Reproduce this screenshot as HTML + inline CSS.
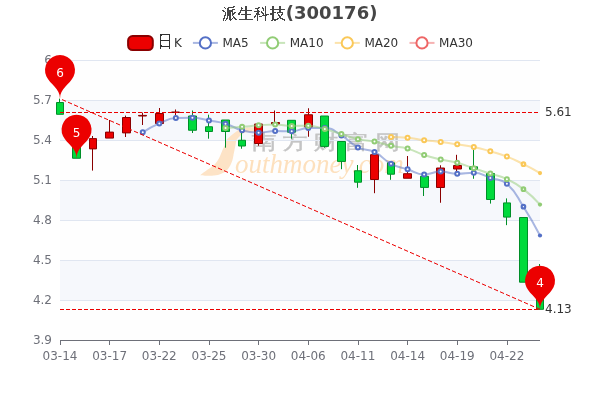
<!DOCTYPE html><html><head><meta charset="utf-8"><style>html,body{margin:0;padding:0;background:#fff;width:600px;height:400px;overflow:hidden}svg{display:block}text{font-family:'DejaVu Sans','WenQuanYi Zen Hei',sans-serif}</style></head><body>
<svg width="600" height="400" viewBox="0 0 600 400">
<rect width="600" height="400" fill="#fff"/>
<rect x="60" y="300" width="480" height="40" fill="rgba(250,250,250,0.2)"/>
<rect x="60" y="260" width="480" height="40" fill="rgba(210,219,238,0.2)"/>
<rect x="60" y="220" width="480" height="40" fill="rgba(250,250,250,0.2)"/>
<rect x="60" y="180" width="480" height="40" fill="rgba(210,219,238,0.2)"/>
<rect x="60" y="140" width="480" height="40" fill="rgba(250,250,250,0.2)"/>
<rect x="60" y="100" width="480" height="40" fill="rgba(210,219,238,0.2)"/>
<rect x="60" y="60" width="480" height="40" fill="rgba(250,250,250,0.2)"/>
<path d="M259.00,129.00 C259.00,128.28 256.13,127.52 254.00,127.30 C251.87,127.08 248.53,127.37 246.20,127.70 C243.87,128.03 241.87,128.50 240.00,129.30 C238.13,130.10 236.58,131.38 235.00,132.50 C233.42,133.62 231.92,134.75 230.50,136.00 C229.08,137.25 227.42,138.50 226.50,140.00 C225.58,141.50 225.67,143.33 225.00,145.00 C224.33,146.67 223.25,148.33 222.50,150.00 C221.75,151.67 221.25,153.33 220.50,155.00 C219.75,156.67 219.08,158.33 218.00,160.00 C216.92,161.67 215.83,163.33 214.00,165.00 C212.17,166.67 208.83,168.67 207.00,170.00 C205.17,171.33 204.08,172.12 203.00,173.00 C201.92,173.88 200.17,174.85 200.50,175.30 C200.83,175.75 203.42,175.62 205.00,175.70 C206.58,175.78 207.83,175.93 210.00,175.80 C212.17,175.67 215.67,175.45 218.00,174.90 C220.33,174.35 222.33,173.48 224.00,172.50 C225.67,171.52 226.92,170.25 228.00,169.00 C229.08,167.75 229.75,166.50 230.50,165.00 C231.25,163.50 232.00,161.67 232.50,160.00 C233.00,158.33 233.17,156.67 233.50,155.00 C233.83,153.33 234.17,151.67 234.50,150.00 C234.83,148.33 235.17,146.67 235.50,145.00 C235.83,143.33 236.00,141.25 236.50,140.00 C237.00,138.75 237.58,138.50 238.50,137.50 C239.42,136.50 240.75,134.87 242.00,134.00 C243.25,133.13 244.00,132.70 246.00,132.30 C248.00,131.90 251.83,132.15 254.00,131.60 C256.17,131.05 259.00,129.72 259.00,129.00Z" fill="#fde3c6"/>
<text x="0" y="0" font-size="20" fill="#c4c4c4" stroke="#c4c4c4" stroke-width="0.4" font-weight="bold" letter-spacing="4.8" transform="translate(251.4,149.4) scale(1.25,1.0)" style="font-family:'WenQuanYi Zen Hei',sans-serif">南方财富网</text>
<text x="235" y="173.2" font-size="27" fill="#fde0bd" font-style="italic" style="font-family:'Liberation Serif',serif">outhmoney.com</text>
<line x1="60" y1="60.5" x2="540" y2="60.5" stroke="#E0E6F1" stroke-width="1"/>
<line x1="60" y1="100.5" x2="540" y2="100.5" stroke="#E0E6F1" stroke-width="1"/>
<line x1="60" y1="140.5" x2="540" y2="140.5" stroke="#E0E6F1" stroke-width="1"/>
<line x1="60" y1="180.5" x2="540" y2="180.5" stroke="#E0E6F1" stroke-width="1"/>
<line x1="60" y1="220.5" x2="540" y2="220.5" stroke="#E0E6F1" stroke-width="1"/>
<line x1="60" y1="260.5" x2="540" y2="260.5" stroke="#E0E6F1" stroke-width="1"/>
<line x1="60" y1="300.5" x2="540" y2="300.5" stroke="#E0E6F1" stroke-width="1"/>
<text x="52" y="344.3" font-size="12" fill="#6E7079" text-anchor="end">3.9</text>
<text x="52" y="304.3" font-size="12" fill="#6E7079" text-anchor="end">4.2</text>
<text x="52" y="264.3" font-size="12" fill="#6E7079" text-anchor="end">4.5</text>
<text x="52" y="224.3" font-size="12" fill="#6E7079" text-anchor="end">4.8</text>
<text x="52" y="184.3" font-size="12" fill="#6E7079" text-anchor="end">5.1</text>
<text x="52" y="144.3" font-size="12" fill="#6E7079" text-anchor="end">5.4</text>
<text x="52" y="104.3" font-size="12" fill="#6E7079" text-anchor="end">5.7</text>
<text x="52" y="64.3" font-size="12" fill="#6E7079" text-anchor="end">6</text>
<line x1="60" y1="340.5" x2="540" y2="340.5" stroke="#6E7079" stroke-width="1"/>
<line x1="60.5" y1="340" x2="60.5" y2="345" stroke="#6E7079" stroke-width="1"/>
<text x="60.00" y="360" font-size="12" fill="#6E7079" text-anchor="middle">03-14</text>
<line x1="109.5" y1="340" x2="109.5" y2="345" stroke="#6E7079" stroke-width="1"/>
<text x="109.66" y="360" font-size="12" fill="#6E7079" text-anchor="middle">03-17</text>
<line x1="159.5" y1="340" x2="159.5" y2="345" stroke="#6E7079" stroke-width="1"/>
<text x="159.31" y="360" font-size="12" fill="#6E7079" text-anchor="middle">03-22</text>
<line x1="209.5" y1="340" x2="209.5" y2="345" stroke="#6E7079" stroke-width="1"/>
<text x="208.97" y="360" font-size="12" fill="#6E7079" text-anchor="middle">03-25</text>
<line x1="258.5" y1="340" x2="258.5" y2="345" stroke="#6E7079" stroke-width="1"/>
<text x="258.62" y="360" font-size="12" fill="#6E7079" text-anchor="middle">03-30</text>
<line x1="308.5" y1="340" x2="308.5" y2="345" stroke="#6E7079" stroke-width="1"/>
<text x="308.28" y="360" font-size="12" fill="#6E7079" text-anchor="middle">04-06</text>
<line x1="358.5" y1="340" x2="358.5" y2="345" stroke="#6E7079" stroke-width="1"/>
<text x="357.93" y="360" font-size="12" fill="#6E7079" text-anchor="middle">04-11</text>
<line x1="407.5" y1="340" x2="407.5" y2="345" stroke="#6E7079" stroke-width="1"/>
<text x="407.59" y="360" font-size="12" fill="#6E7079" text-anchor="middle">04-14</text>
<line x1="457.5" y1="340" x2="457.5" y2="345" stroke="#6E7079" stroke-width="1"/>
<text x="457.24" y="360" font-size="12" fill="#6E7079" text-anchor="middle">04-19</text>
<line x1="507.5" y1="340" x2="507.5" y2="345" stroke="#6E7079" stroke-width="1"/>
<text x="506.90" y="360" font-size="12" fill="#6E7079" text-anchor="middle">04-22</text>
<path d="M56.5,102.50L63.5,102.50L63.5,114.30L56.5,114.30Z M59.5,98.67L59.5,102.50 M59.5,114.30L59.5,114.30" fill="#00da3c" stroke="#008F28" stroke-width="1"/>
<path d="M72.5,140.00L80.5,140.00L80.5,158.25L72.5,158.25Z M76.5,140.00L76.5,140.00 M76.5,158.25L76.5,158.25" fill="#00da3c" stroke="#008F28" stroke-width="1"/>
<path d="M89.5,138.60L96.5,138.60L96.5,148.90L89.5,148.90Z M92.5,136.00L92.5,138.60 M92.5,170.60L92.5,148.90" fill="#ec0000" stroke="#8A0000" stroke-width="1"/>
<path d="M105.5,132.10L113.5,132.10L113.5,138.10L105.5,138.10Z M109.5,120.00L109.5,132.10 M109.5,138.10L109.5,138.10" fill="#ec0000" stroke="#8A0000" stroke-width="1"/>
<path d="M122.5,117.50L130.5,117.50L130.5,132.90L122.5,132.90Z M125.5,115.60L125.5,117.50 M125.5,137.00L125.5,132.90" fill="#ec0000" stroke="#8A0000" stroke-width="1"/>
<path d="M138.5,115.40L146.5,115.40L146.5,116.00L138.5,116.00Z M142.5,112.60L142.5,115.40 M142.5,125.00L142.5,116.00" fill="#ec0000" stroke="#8A0000" stroke-width="1"/>
<path d="M155.5,113.50L163.5,113.50L163.5,123.50L155.5,123.50Z M159.5,108.00L159.5,113.50 M159.5,123.50L159.5,123.50" fill="#ec0000" stroke="#8A0000" stroke-width="1"/>
<path d="M171.5,112.00L179.5,112.00L179.5,112.50L171.5,112.50Z M175.5,109.50L175.5,112.00 M175.5,115.00L175.5,112.50" fill="#ec0000" stroke="#8A0000" stroke-width="1"/>
<path d="M188.5,116.00L196.5,116.00L196.5,130.25L188.5,130.25Z M192.5,110.50L192.5,116.00 M192.5,133.00L192.5,130.25" fill="#00da3c" stroke="#008F28" stroke-width="1"/>
<path d="M205.5,126.75L212.5,126.75L212.5,131.50L205.5,131.50Z M208.5,114.70L208.5,126.75 M208.5,138.70L208.5,131.50" fill="#00da3c" stroke="#008F28" stroke-width="1"/>
<path d="M221.5,120.00L229.5,120.00L229.5,131.50L221.5,131.50Z M225.5,120.00L225.5,120.00 M225.5,147.70L225.5,131.50" fill="#00da3c" stroke="#008F28" stroke-width="1"/>
<path d="M238.5,140.25L245.5,140.25L245.5,146.00L238.5,146.00Z M241.5,127.00L241.5,140.25 M241.5,148.75L241.5,146.00" fill="#00da3c" stroke="#008F28" stroke-width="1"/>
<path d="M254.5,124.00L262.5,124.00L262.5,143.50L254.5,143.50Z M258.5,124.00L258.5,124.00 M258.5,145.75L258.5,143.50" fill="#ec0000" stroke="#8A0000" stroke-width="1"/>
<path d="M271.5,122.50L279.5,122.50L279.5,124.00L271.5,124.00Z M274.5,110.50L274.5,122.50 M274.5,124.00L274.5,124.00" fill="#ec0000" stroke="#8A0000" stroke-width="1"/>
<path d="M287.5,120.30L295.5,120.30L295.5,132.20L287.5,132.20Z M291.5,120.30L291.5,120.30 M291.5,138.70L291.5,132.20" fill="#00da3c" stroke="#008F28" stroke-width="1"/>
<path d="M304.5,114.75L312.5,114.75L312.5,127.00L304.5,127.00Z M308.5,108.25L308.5,114.75 M308.5,136.75L308.5,127.00" fill="#ec0000" stroke="#8A0000" stroke-width="1"/>
<path d="M320.5,116.00L328.5,116.00L328.5,146.40L320.5,146.40Z M324.5,116.00L324.5,116.00 M324.5,147.70L324.5,146.40" fill="#00da3c" stroke="#008F28" stroke-width="1"/>
<path d="M337.5,141.50L345.5,141.50L345.5,161.40L337.5,161.40Z M341.5,141.50L341.5,141.50 M341.5,169.20L341.5,161.40" fill="#00da3c" stroke="#008F28" stroke-width="1"/>
<path d="M354.5,170.75L361.5,170.75L361.5,182.20L354.5,182.20Z M357.5,165.00L357.5,170.75 M357.5,187.80L357.5,182.20" fill="#00da3c" stroke="#008F28" stroke-width="1"/>
<path d="M370.5,154.70L378.5,154.70L378.5,179.50L370.5,179.50Z M374.5,154.70L374.5,154.70 M374.5,193.20L374.5,179.50" fill="#ec0000" stroke="#8A0000" stroke-width="1"/>
<path d="M387.5,162.80L394.5,162.80L394.5,174.20L387.5,174.20Z M390.5,162.80L390.5,162.80 M390.5,179.80L390.5,174.20" fill="#00da3c" stroke="#008F28" stroke-width="1"/>
<path d="M403.5,173.70L411.5,173.70L411.5,178.25L403.5,178.25Z M407.5,156.00L407.5,173.70 M407.5,178.25L407.5,178.25" fill="#ec0000" stroke="#8A0000" stroke-width="1"/>
<path d="M420.5,176.25L428.5,176.25L428.5,187.40L420.5,187.40Z M423.5,174.50L423.5,176.25 M423.5,196.00L423.5,187.40" fill="#00da3c" stroke="#008F28" stroke-width="1"/>
<path d="M436.5,168.00L444.5,168.00L444.5,187.50L436.5,187.50Z M440.5,165.25L440.5,168.00 M440.5,202.75L440.5,187.50" fill="#ec0000" stroke="#8A0000" stroke-width="1"/>
<path d="M453.5,165.50L461.5,165.50L461.5,169.00L453.5,169.00Z M456.5,154.80L456.5,165.50 M456.5,171.25L456.5,169.00" fill="#ec0000" stroke="#8A0000" stroke-width="1"/>
<path d="M469.5,166.80L477.5,166.80L477.5,169.25L469.5,169.25Z M473.5,149.25L473.5,166.80 M473.5,178.75L473.5,169.25" fill="#00da3c" stroke="#008F28" stroke-width="1"/>
<path d="M486.5,173.50L494.5,173.50L494.5,199.50L486.5,199.50Z M490.5,173.50L490.5,173.50 M490.5,203.60L490.5,199.50" fill="#00da3c" stroke="#008F28" stroke-width="1"/>
<path d="M503.5,202.90L510.5,202.90L510.5,217.10L503.5,217.10Z M506.5,198.40L506.5,202.90 M506.5,225.15L506.5,217.10" fill="#00da3c" stroke="#008F28" stroke-width="1"/>
<path d="M519.5,217.50L527.5,217.50L527.5,282.20L519.5,282.20Z M523.5,217.50L523.5,217.50 M523.5,282.20L523.5,282.20" fill="#00da3c" stroke="#008F28" stroke-width="1"/>
<path d="M536.5,275.00L543.5,275.00L543.5,309.33L536.5,309.33Z M539.5,264.00L539.5,275.00 M539.5,309.33L539.5,309.33" fill="#00da3c" stroke="#008F28" stroke-width="1"/>
<path d="M142.76,132.37 C142.76,132.37 150.71,127.13 159.31,123.42 C167.26,119.99 167.38,118.49 175.86,118.10 C183.94,117.73 184.20,117.73 192.41,117.73 C200.75,117.73 200.71,119.03 208.97,120.53 C217.26,122.04 217.46,121.38 225.52,123.75 C234.01,126.24 233.54,127.96 242.07,130.25 C250.09,132.41 250.32,132.65 258.62,132.65 C266.87,132.65 266.88,131.10 275.17,131.10 C283.43,131.10 283.53,131.24 291.72,131.24 C300.08,131.24 299.92,127.89 308.28,127.89 C316.47,127.89 316.94,127.89 324.83,127.97 C333.49,128.06 333.59,130.88 341.38,135.45 C350.14,140.59 348.94,142.92 357.93,147.39 C365.49,151.14 366.92,148.14 374.48,151.89 C383.47,156.34 382.11,159.10 391.03,163.78 C398.66,167.78 399.29,166.57 407.59,169.24 C415.84,171.90 415.73,174.44 424.14,174.44 C432.28,174.44 432.39,171.60 440.69,171.60 C448.94,171.60 448.94,173.76 457.24,173.76 C465.49,173.76 465.70,172.77 473.79,172.77 C482.25,172.77 482.13,175.17 490.34,177.93 C498.68,180.72 500.54,178.34 506.90,183.87 C517.09,192.73 515.84,194.86 523.45,206.71 C532.40,220.66 540.00,235.48 540.00,235.48" fill="none" stroke="#5470c6" stroke-width="2" stroke-opacity="0.5"/>
<circle cx="142.76" cy="132.37" r="2" fill="#fff" stroke="#5470c6" stroke-width="2"/>
<circle cx="159.31" cy="123.42" r="2" fill="#fff" stroke="#5470c6" stroke-width="2"/>
<circle cx="175.86" cy="118.10" r="2" fill="#fff" stroke="#5470c6" stroke-width="2"/>
<circle cx="192.41" cy="117.73" r="2" fill="#fff" stroke="#5470c6" stroke-width="2"/>
<circle cx="208.97" cy="120.53" r="2" fill="#fff" stroke="#5470c6" stroke-width="2"/>
<circle cx="225.52" cy="123.75" r="2" fill="#fff" stroke="#5470c6" stroke-width="2"/>
<circle cx="242.07" cy="130.25" r="2" fill="#fff" stroke="#5470c6" stroke-width="2"/>
<circle cx="258.62" cy="132.65" r="2" fill="#fff" stroke="#5470c6" stroke-width="2"/>
<circle cx="275.17" cy="131.10" r="2" fill="#fff" stroke="#5470c6" stroke-width="2"/>
<circle cx="291.72" cy="131.24" r="2" fill="#fff" stroke="#5470c6" stroke-width="2"/>
<circle cx="308.28" cy="127.89" r="2" fill="#fff" stroke="#5470c6" stroke-width="2"/>
<circle cx="324.83" cy="127.97" r="2" fill="#fff" stroke="#5470c6" stroke-width="2"/>
<circle cx="341.38" cy="135.45" r="2" fill="#fff" stroke="#5470c6" stroke-width="2"/>
<circle cx="357.93" cy="147.39" r="2" fill="#fff" stroke="#5470c6" stroke-width="2"/>
<circle cx="374.48" cy="151.89" r="2" fill="#fff" stroke="#5470c6" stroke-width="2"/>
<circle cx="391.03" cy="163.78" r="2" fill="#fff" stroke="#5470c6" stroke-width="2"/>
<circle cx="407.59" cy="169.24" r="2" fill="#fff" stroke="#5470c6" stroke-width="2"/>
<circle cx="424.14" cy="174.44" r="2" fill="#fff" stroke="#5470c6" stroke-width="2"/>
<circle cx="440.69" cy="171.60" r="2" fill="#fff" stroke="#5470c6" stroke-width="2"/>
<circle cx="457.24" cy="173.76" r="2" fill="#fff" stroke="#5470c6" stroke-width="2"/>
<circle cx="473.79" cy="172.77" r="2" fill="#fff" stroke="#5470c6" stroke-width="2"/>
<circle cx="490.34" cy="177.93" r="2" fill="#fff" stroke="#5470c6" stroke-width="2"/>
<circle cx="506.90" cy="183.87" r="2" fill="#fff" stroke="#5470c6" stroke-width="2"/>
<circle cx="523.45" cy="206.71" r="1.75" fill="#fff" stroke="#5470c6" stroke-width="2.2"/>
<circle cx="540.00" cy="235.48" r="2.1" fill="#5470c6"/>
<path d="M225.52,128.06 C225.52,128.06 233.80,127.51 242.07,126.84 C250.35,126.16 250.34,125.98 258.62,125.37 C266.89,124.77 266.91,124.41 275.17,124.41 C283.46,124.41 283.43,125.88 291.72,125.88 C299.98,125.88 300.08,125.82 308.28,125.82 C316.63,125.82 316.65,127.08 324.83,129.11 C333.20,131.19 333.12,131.52 341.38,134.05 C349.67,136.59 349.50,137.33 357.93,139.25 C366.05,141.09 366.30,139.94 374.48,141.57 C382.85,143.23 382.68,144.06 391.03,145.83 C399.23,147.58 399.54,146.39 407.59,148.60 C416.09,150.94 415.73,152.18 424.14,154.94 C432.28,157.62 432.35,157.51 440.69,159.50 C448.90,161.45 449.10,160.66 457.24,162.82 C465.65,165.05 465.51,165.58 473.79,168.28 C482.06,170.96 482.09,170.87 490.34,173.59 C498.64,176.31 499.04,175.46 506.90,179.15 C515.59,183.25 515.83,183.29 523.45,189.15 C532.38,196.02 540.00,204.62 540.00,204.62" fill="none" stroke="#91cc75" stroke-width="2" stroke-opacity="0.5"/>
<circle cx="225.52" cy="128.06" r="2" fill="#fff" stroke="#91cc75" stroke-width="2"/>
<circle cx="242.07" cy="126.84" r="2" fill="#fff" stroke="#91cc75" stroke-width="2"/>
<circle cx="258.62" cy="125.37" r="2" fill="#fff" stroke="#91cc75" stroke-width="2"/>
<circle cx="275.17" cy="124.41" r="2" fill="#fff" stroke="#91cc75" stroke-width="2"/>
<circle cx="291.72" cy="125.88" r="2" fill="#fff" stroke="#91cc75" stroke-width="2"/>
<circle cx="308.28" cy="125.82" r="2" fill="#fff" stroke="#91cc75" stroke-width="2"/>
<circle cx="324.83" cy="129.11" r="2" fill="#fff" stroke="#91cc75" stroke-width="2"/>
<circle cx="341.38" cy="134.05" r="2" fill="#fff" stroke="#91cc75" stroke-width="2"/>
<circle cx="357.93" cy="139.25" r="2" fill="#fff" stroke="#91cc75" stroke-width="2"/>
<circle cx="374.48" cy="141.57" r="2" fill="#fff" stroke="#91cc75" stroke-width="2"/>
<circle cx="391.03" cy="145.83" r="2" fill="#fff" stroke="#91cc75" stroke-width="2"/>
<circle cx="407.59" cy="148.60" r="2" fill="#fff" stroke="#91cc75" stroke-width="2"/>
<circle cx="424.14" cy="154.94" r="2" fill="#fff" stroke="#91cc75" stroke-width="2"/>
<circle cx="440.69" cy="159.50" r="2" fill="#fff" stroke="#91cc75" stroke-width="2"/>
<circle cx="457.24" cy="162.82" r="2" fill="#fff" stroke="#91cc75" stroke-width="2"/>
<circle cx="473.79" cy="168.28" r="2" fill="#fff" stroke="#91cc75" stroke-width="2"/>
<circle cx="490.34" cy="173.59" r="2" fill="#fff" stroke="#91cc75" stroke-width="2"/>
<circle cx="506.90" cy="179.15" r="2" fill="#fff" stroke="#91cc75" stroke-width="2"/>
<circle cx="523.45" cy="189.15" r="1.75" fill="#fff" stroke="#91cc75" stroke-width="2.2"/>
<circle cx="540.00" cy="204.62" r="2.1" fill="#91cc75"/>
<path d="M391.03,136.95 C391.03,136.95 399.35,136.95 407.59,137.72 C415.90,138.50 415.84,139.10 424.14,140.16 C432.39,141.22 432.43,140.91 440.69,141.95 C448.98,143.01 448.98,143.08 457.24,144.36 C465.53,145.63 465.60,145.32 473.79,147.05 C482.15,148.81 482.13,148.98 490.34,151.35 C498.68,153.75 498.82,153.47 506.90,156.60 C515.37,159.89 515.30,160.14 523.45,164.20 C531.85,168.39 540.00,173.09 540.00,173.09" fill="none" stroke="#fac858" stroke-width="2" stroke-opacity="0.5"/>
<circle cx="391.03" cy="136.95" r="2" fill="#fff" stroke="#fac858" stroke-width="2"/>
<circle cx="407.59" cy="137.72" r="2" fill="#fff" stroke="#fac858" stroke-width="2"/>
<circle cx="424.14" cy="140.16" r="2" fill="#fff" stroke="#fac858" stroke-width="2"/>
<circle cx="440.69" cy="141.95" r="2" fill="#fff" stroke="#fac858" stroke-width="2"/>
<circle cx="457.24" cy="144.36" r="2" fill="#fff" stroke="#fac858" stroke-width="2"/>
<circle cx="473.79" cy="147.05" r="2" fill="#fff" stroke="#fac858" stroke-width="2"/>
<circle cx="490.34" cy="151.35" r="2" fill="#fff" stroke="#fac858" stroke-width="2"/>
<circle cx="506.90" cy="156.60" r="2" fill="#fff" stroke="#fac858" stroke-width="2"/>
<circle cx="523.45" cy="164.20" r="1.75" fill="#fff" stroke="#fac858" stroke-width="2.2"/>
<circle cx="540.00" cy="173.09" r="2.1" fill="#fac858"/>
<line x1="60" y1="112.50" x2="540" y2="112.50" stroke="#ec0000" stroke-width="1" stroke-dasharray="4 2"/>
<line x1="60" y1="309.50" x2="540" y2="309.50" stroke="#ec0000" stroke-width="1" stroke-dasharray="4 2"/>
<line x1="540.0" y1="309.33" x2="60.0" y2="98.67" stroke="#ec0000" stroke-width="1" stroke-dasharray="4.3683 2.1841"/>
<text x="545" y="115.80" font-size="12" fill="#333">5.61</text>
<text x="545" y="312.80" font-size="12" fill="#333">4.13</text>
<path d="M46.447,76.524 A15.000,15.000 0 1 1 73.553,76.524 C69.695,84.655 60.000,88.167 60.000,98.667 C60.000,88.167 50.305,84.655 46.447,76.524Z" fill="#ec0000"/>
<text x="60.00" y="77" font-size="12" fill="#fff" text-anchor="middle">6</text>
<path d="M526.447,287.190 A15.000,15.000 0 1 1 553.553,287.190 C549.695,295.322 540.000,298.833 540.000,309.333 C540.000,298.833 530.305,295.322 526.447,287.190Z" fill="#ec0000"/>
<text x="540.00" y="287" font-size="12" fill="#fff" text-anchor="middle">4</text>
<path d="M62.999,136.107 A15.000,15.000 0 1 1 90.104,136.107 C86.247,144.239 76.552,147.750 76.552,158.250 C76.552,147.750 66.856,144.239 62.999,136.107Z" fill="#ec0000"/>
<text x="76.55" y="137" font-size="12" fill="#fff" text-anchor="middle">5</text>
<defs><filter id="crisp" x="0" y="0" width="1" height="1"><feComponentTransfer><feFuncA type="discrete" tableValues="0 0 1 1 1"/></feComponentTransfer></filter></defs>
<text x="285.8" y="19" font-size="18" font-weight="bold" fill="#464646">(300176)</text>
<text x="221.8" y="19" font-size="16" fill="#464646" filter="url(#crisp)" style="font-family:'WenQuanYi Zen Hei',sans-serif">派生科技</text>
<rect x="128.1" y="36.1" width="24.7" height="14" rx="4.5" fill="#ec0000" stroke="#8A0000" stroke-width="2"/>
<text x="0" y="0" font-size="16" fill="#333" filter="url(#crisp)" transform="translate(158.0,46.6) scale(0.9,1.04)" style="font-family:'WenQuanYi Zen Hei',sans-serif">日</text>
<text x="173.9" y="47" font-size="12" fill="#333">K</text>
<line x1="192.9" y1="42.9" x2="217.9" y2="42.9" stroke="#5470c6" stroke-width="2" stroke-opacity="0.5"/>
<circle cx="205.4" cy="42.9" r="5.6" fill="#fff" stroke="#5470c6" stroke-width="2"/>
<text x="222.5" y="47" font-size="12" fill="#333">MA5</text>
<line x1="260.1" y1="42.9" x2="285.1" y2="42.9" stroke="#91cc75" stroke-width="2" stroke-opacity="0.5"/>
<circle cx="272.6" cy="42.9" r="5.6" fill="#fff" stroke="#91cc75" stroke-width="2"/>
<text x="289.70000000000005" y="47" font-size="12" fill="#333">MA10</text>
<line x1="334.8" y1="42.9" x2="359.8" y2="42.9" stroke="#fac858" stroke-width="2" stroke-opacity="0.5"/>
<circle cx="347.3" cy="42.9" r="5.6" fill="#fff" stroke="#fac858" stroke-width="2"/>
<text x="364.40000000000003" y="47" font-size="12" fill="#333">MA20</text>
<line x1="409.5" y1="42.9" x2="434.5" y2="42.9" stroke="#ee6666" stroke-width="2" stroke-opacity="0.5"/>
<circle cx="422.0" cy="42.9" r="5.6" fill="#fff" stroke="#ee6666" stroke-width="2"/>
<text x="439.1" y="47" font-size="12" fill="#333">MA30</text>
</svg></body></html>
